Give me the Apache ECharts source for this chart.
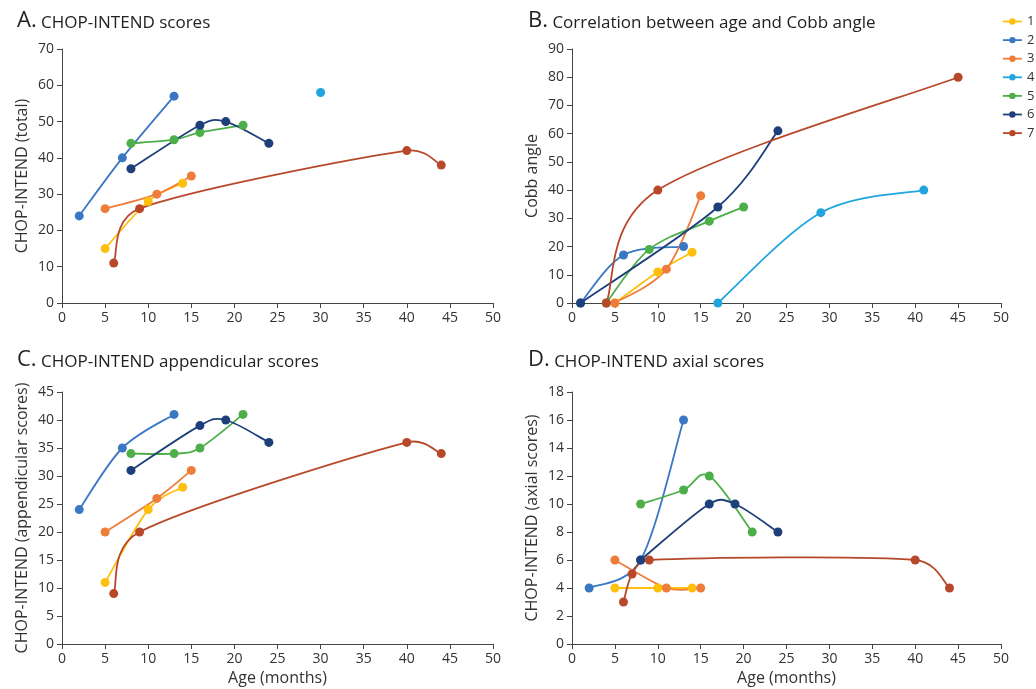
<!DOCTYPE html>
<html>
<head>
<meta charset="UTF-8" />
<title>CHOP-INTEND and Cobb angle by age</title>
<script src="https://cdn.jsdelivr.net/npm/echarts@6/dist/echarts.min.js"></script>
</head>
<body style="margin:0;background:#fff;">
<div id="chart" style="width: 1036px; height: 689px;"></div>
<script>
// patients (legend) and their colours
var patients = ["1", "2", "3", "4", "5", "6", "7"];
var colors = ["#FFBF0F", "#3B78C4", "#EF7D3A", "#22A5DE", "#4DAF4A", "#1D3F7A", "#B7482A"];

// age (months), value pairs per patient, one array per panel
var totalScores = [
  [[5, 15], [10, 28], [14, 33]],
  [[2, 24], [7, 40], [13, 57]],
  [[5, 26], [11, 30], [15, 35]],
  [[30, 58]],
  [[8, 44], [13, 45], [16, 47], [21, 49]],
  [[8, 37], [16, 49], [19, 50], [24, 44]],
  [[6, 11], [9, 26], [40, 42], [44, 38]]
];
var cobbAngle = [
  [[5, 0], [10, 11], [14, 18]],
  [[1, 0], [6, 17], [13, 20]],
  [[5, 0], [11, 12], [15, 38]],
  [[17, 0], [29, 32], [41, 40]],
  [[4, 0], [9, 19], [16, 29], [20, 34]],
  [[1, 0], [17, 34], [24, 61]],
  [[4, 0], [10, 40], [45, 80]]
];
var appendicularScores = [
  [[5, 11], [10, 24], [14, 28]],
  [[2, 24], [7, 35], [13, 41]],
  [[5, 20], [11, 26], [15, 31]],
  [],
  [[8, 34], [13, 34], [16, 35], [21, 41]],
  [[8, 31], [16, 39], [19, 40], [24, 36]],
  [[6, 9], [9, 20], [40, 36], [44, 34]]
];
var axialScores = [
  [[5, 4], [10, 4], [14, 4]],
  [[2, 4], [8, 6], [13, 16]],
  [[5, 6], [11, 4], [15, 4]],
  [],
  [[8, 10], [13, 11], [16, 12], [21, 8]],
  [[8, 6], [16, 10], [19, 10], [24, 8]],
  [[6, 3], [7, 5], [9, 6], [40, 6], [44, 4]]
];

var panelData = [totalScores, cobbAngle, appendicularScores, axialScores];
var panelTitles = ["A.", "B.", "C.", "D."];
var panelNames = ["CHOP-INTEND scores", "Correlation between age and Cobb angle", "CHOP-INTEND appendicular scores", "CHOP-INTEND axial scores"];
var yNames = ["CHOP-INTEND (total)", "Cobb angle", "CHOP-INTEND (appendicular scores)", "CHOP-INTEND (axial scores)"];
var yMax = [70, 90, 45, 18];
var yStep = [10, 10, 5, 2];

var font = "Open Sans";
var ink = "#333";

var myChart = echarts.init(document.getElementById("chart"));

var grids = [
  { left: 62, right: 543, top: 49, bottom: 386 },
  { left: 572, right: 35, top: 49, bottom: 386 },
  { left: 62, right: 543, top: 392, bottom: 45 },
  { left: 572, right: 35, top: 392, bottom: 45 }
];
grids.forEach(function (g) { g.outerBoundsMode = "none"; });

var titlePos = [[12, 1], [523, 1], [12, 340], [523, 340]];

var titles = panelTitles.map(function (t, i) {
  return {
    left: titlePos[i][0],
    top: titlePos[i][1],
    text: "{a|" + t + "}{b| " + panelNames[i] + "}",
    textStyle: {
      fontWeight: "normal",
      rich: {
        a: { fontFamily: font, fontSize: 22, fontWeight: "normal", color: "#222", lineHeight: 26, verticalAlign: "bottom" },
        b: { fontFamily: font, fontSize: 17, fontWeight: "normal", color: "#222", lineHeight: 26, verticalAlign: "bottom" }
      }
    }
  };
});

var axisCommon = {
  axisLine: { lineStyle: { color: "#444", width: 1 } },
  axisTick: { length: 5, lineStyle: { color: "#444" } },
  axisLabel: { fontFamily: font, fontSize: 14, color: ink },
  splitLine: { show: false }
};

var xAxes = [0, 1, 2, 3].map(function (i) {
  var ax = Object.assign({}, axisCommon, {
    type: "value",
    gridIndex: i,
    min: 0,
    max: 50,
    interval: 5
  });
  if (i >= 2) {
    ax.name = "Age (months)";
    ax.nameLocation = "middle";
    ax.nameGap = 26;
    ax.nameTextStyle = { fontFamily: font, fontSize: 16, color: ink };
  }
  return ax;
});

var yAxes = [0, 1, 2, 3].map(function (i) {
  return Object.assign({}, axisCommon, {
    type: "value",
    gridIndex: i,
    min: 0,
    max: yMax[i],
    interval: yStep[i],
    name: yNames[i],
    nameLocation: "middle",
    nameGap: 32,
    nameTextStyle: { fontFamily: font, fontSize: 16, color: ink }
  });
});

// spreadsheet-style smoothed line: bezier segments, control handles 1/6 of
// the neighbour chord, capped at half of the segment length
function smoothCurve(color) {
  return function (params, api) {
    if (params.dataIndexInside !== 0) return null;
    var n = params.dataInsideLength;
    var p = [];
    for (var i = 0; i < n; i++) {
      p.push(api.coord([api.value(0, i), api.value(1, i)]));
    }
    var segs = [];
    for (var j = 0; j < n - 1; j++) {
      var p0 = p[j - 1] || p[j], p1 = p[j], p2 = p[j + 1], p3 = p[j + 2] || p[j + 1];
      var d12 = Math.hypot(p2[0] - p1[0], p2[1] - p1[1]);
      var t1 = [p2[0] - p0[0], p2[1] - p0[1]], l1 = Math.hypot(t1[0], t1[1]) || 1;
      var t2 = [p3[0] - p1[0], p3[1] - p1[1]], l2 = Math.hypot(t2[0], t2[1]) || 1;
      var f1 = Math.min(1 / 6, d12 / 2 / l1);
      var f2 = Math.min(1 / 6, d12 / 2 / l2);
      segs.push({
        type: "bezierCurve",
        shape: {
          x1: p1[0], y1: p1[1],
          cpx1: p1[0] + t1[0] * f1, cpy1: p1[1] + t1[1] * f1,
          cpx2: p2[0] - t2[0] * f2, cpy2: p2[1] - t2[1] * f2,
          x2: p2[0], y2: p2[1]
        },
        style: { stroke: color, fill: null, lineWidth: 1.8 }
      });
    }
    return { type: "group", children: segs };
  };
}

var markerSeries = [];
var curveSeries = [];
panelData.forEach(function (panel, pi) {
  panel.forEach(function (pts, k) {
    if (!pts.length) return;
    markerSeries.push({
      name: patients[k],
      type: "line",
      xAxisIndex: pi,
      yAxisIndex: pi,
      data: pts,
      symbol: "circle",
      symbolSize: 9,
      showAllSymbol: true,
      z: 3,
      itemStyle: { color: colors[k] },
      lineStyle: { color: colors[k], width: 1.8, opacity: 0 },
      emphasis: { disabled: true }
    });
    if (pts.length > 1) {
      curveSeries.push({
        type: "custom",
        xAxisIndex: pi,
        yAxisIndex: pi,
        data: pts,
        encode: { x: 0, y: 1 },
        z: 2,
        silent: true,
        renderItem: smoothCurve(colors[k])
      });
    }
  });
});

var option = {
  animation: false,
  color: colors,
  title: titles,
  legend: {
    data: patients,
    orient: "vertical",
    left: 1002,
    top: 15,
    padding: 0,
    itemWidth: 19,
    itemHeight: 8,
    itemGap: 5.6,
    lineStyle: { opacity: 1, width: 1.8 },
    textStyle: { fontFamily: font, fontSize: 13, color: ink }
  },
  grid: grids,
  xAxis: xAxes,
  yAxis: yAxes,
  series: markerSeries.concat(curveSeries)
};

myChart.setOption(option);
</script>
</body>
</html>
